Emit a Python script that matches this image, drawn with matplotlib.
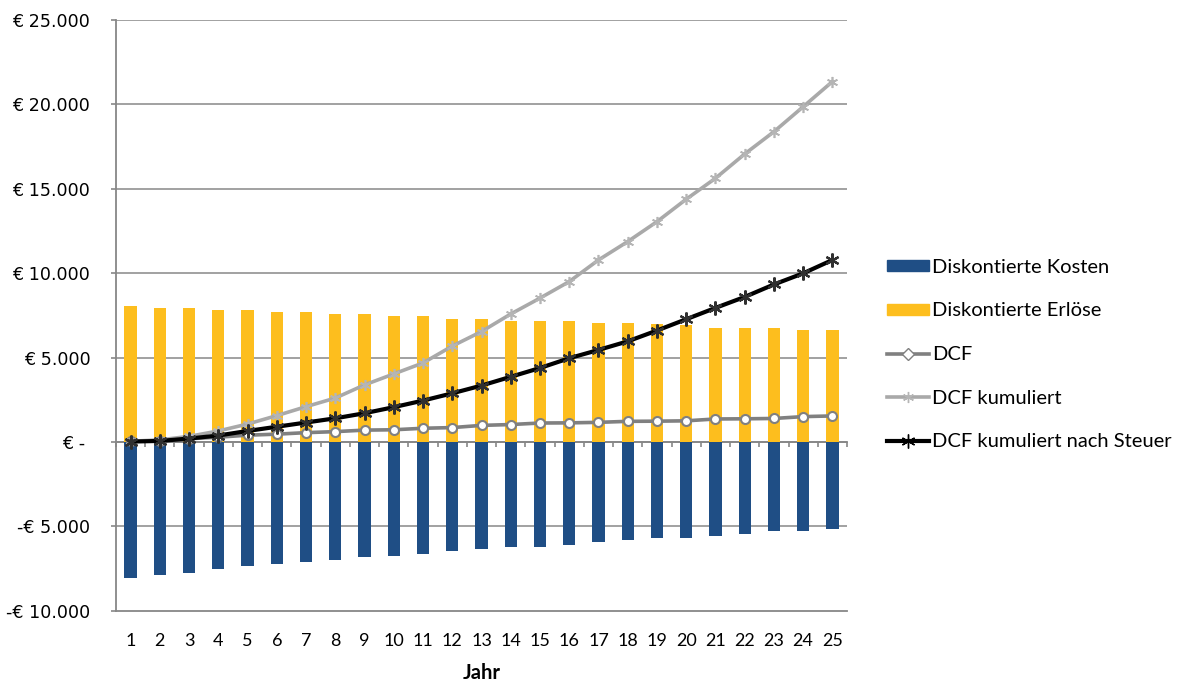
import matplotlib
matplotlib.use("Agg")
import matplotlib.pyplot as plt
from matplotlib.ticker import FixedLocator, FuncFormatter
from matplotlib.lines import Line2D
from matplotlib.patches import Patch

# Jahre 1..25
jahre = list(range(1, 26))

# Diskontierte Kosten (negativ) und Erlöse je Jahr in €
kosten = [-8040, -7880, -7760, -7520, -7350, -7250, -7130, -7010, -6830, -6730,
          -6620, -6440, -6320, -6220, -6220, -6100, -5940, -5810, -5710, -5710,
          -5590, -5430, -5290, -5290, -5170]
erloese = [8080, 7960, 7960, 7800, 7800, 7680, 7680, 7570, 7570, 7450,
           7450, 7290, 7290, 7170, 7170, 7170, 7050, 7050, 6990, 6930,
           6750, 6750, 6750, 6640, 6640]

# Diskontierter Cashflow und kumulierte Werte
dcf = [40, 80, 190, 280, 400, 460, 550, 610, 700, 720, 810, 850, 980, 1030,
       1120, 1130, 1160, 1220, 1230, 1250, 1360, 1370, 1390, 1500, 1540]
dcf_kum = [40, 120, 330, 650, 1060, 1560, 2090, 2600, 3380, 4030, 4680, 5680,
           6540, 7580, 8520, 9500, 10780, 11870, 13050, 14380, 15620, 17060,
           18380, 19860, 21350]
dcf_kum_steuer = [20, 60, 200, 380, 650, 900, 1150, 1400, 1700, 2060, 2450,
                  2880, 3340, 3860, 4380, 4960, 5450, 5960, 6600, 7270, 7940,
                  8590, 9330, 9990, 10780]

y_ticks = [-10000, -5000, 0, 5000, 10000, 15000, 20000, 25000]

BLAU = "#1F4E85"
GOLD = "#FDBE1E"
GRID = "#878787"

fig = plt.figure(figsize=(11.8, 6.81), dpi=100)
ax = fig.add_axes([116 / 1180, 1 - 610.7 / 681, (847 - 116) / 1180, (610.7 - 20) / 681])

ymin, ymax = y_ticks[0], y_ticks[-1]
ax.set_ylim(ymin, ymax)
ax.set_xlim(0.5, 25.5)

# horizontal grid
for v in y_ticks[1:]:
    ax.axhline(v, color=GRID, lw=1.1, zorder=1)

bw = 0.42
ax.bar(jahre, kosten, width=bw, color=BLAU, zorder=2, label="Diskontierte Kosten")
ax.bar(jahre, erloese, width=bw, color=GOLD, zorder=2, label="Diskontierte Erlöse")

star = (6, 2, 0)
ax.plot(jahre, dcf, color="#808080", lw=2.6, marker="o", ms=6.5,
        mfc="white", mec="#808080", mew=1.5, zorder=4)
ax.plot(jahre, dcf_kum, color="#A9A9A9", lw=2.6, marker=star, ms=8,
        mec="#B5B5B5", mew=1.2, zorder=4)
ax.plot(jahre, dcf_kum_steuer, color="black", lw=3.0, marker=star, ms=10,
        mec="#303030", mew=1.6, zorder=5)

# axes styling
for s in ("top", "right"):
    ax.spines[s].set_visible(False)
for s in ("left", "bottom"):
    ax.spines[s].set_color(GRID)
    ax.spines[s].set_linewidth(1.3)
ax.spines["left"].set_zorder(6)


def euro(v, pos=None):
    if v == 0:
        return "€ - "
    s = f"{abs(int(v)):,}".replace(",", ".")
    return ("-€ " if v < 0 else "€ ") + s


ax.yaxis.set_major_locator(FixedLocator(y_ticks))
ax.yaxis.set_major_formatter(FuncFormatter(euro))
ax.tick_params(axis="y", direction="out", length=3.5, width=1.2, color=GRID,
               pad=15, labelsize=12.6)
for t in ax.get_yticklabels():
    t.set_fontfamily("DejaVu Sans")

ax.set_xticks(jahre)
ax.tick_params(axis="x", length=0, pad=16, labelsize=13)
for t in ax.get_xticklabels():
    t.set_fontfamily("Lato")

# category axis on the zero line with ticks between categories
zero_frac = (0 - ymin) / (ymax - ymin)
sec = ax.secondary_xaxis(zero_frac)
sec.set_xticks([j + 0.5 for j in [0] + jahre])
sec.tick_params(axis="x", direction="out", length=3.5, width=1.2, color=GRID,
                labelbottom=False)
sec.spines["bottom"].set_color(GRID)
sec.spines["bottom"].set_linewidth(1.3)

ax.set_xlabel("Jahr", fontfamily="Lato", fontweight="bold", fontsize=14.5, labelpad=10)

handles = [
    Patch(color=BLAU),
    Patch(color=GOLD),
    Line2D([], [], color="#808080", lw=2.6, marker="D", ms=6, mfc="white", mec="#808080"),
    Line2D([], [], color="#A9A9A9", lw=2.6, marker=star, ms=8, mec="#B5B5B5"),
    Line2D([], [], color="black", lw=3.0, marker=star, ms=10, mec="black"),
]
labels = ["Diskontierte Kosten", "Diskontierte Erlöse", "DCF", "DCF kumuliert",
          "DCF kumuliert nach Steuer"]
fig.legend(handles, labels, loc="center left", bbox_to_anchor=(887 / 1180, 1 - 354.5 / 681),
           frameon=False, prop={"family": "Lato", "size": 14.5}, handlelength=2.1,
           handleheight=0.45, handletextpad=0.15, labelspacing=1.32, borderpad=0,
           borderaxespad=0)

fig.savefig("out.png", dpi=100)
